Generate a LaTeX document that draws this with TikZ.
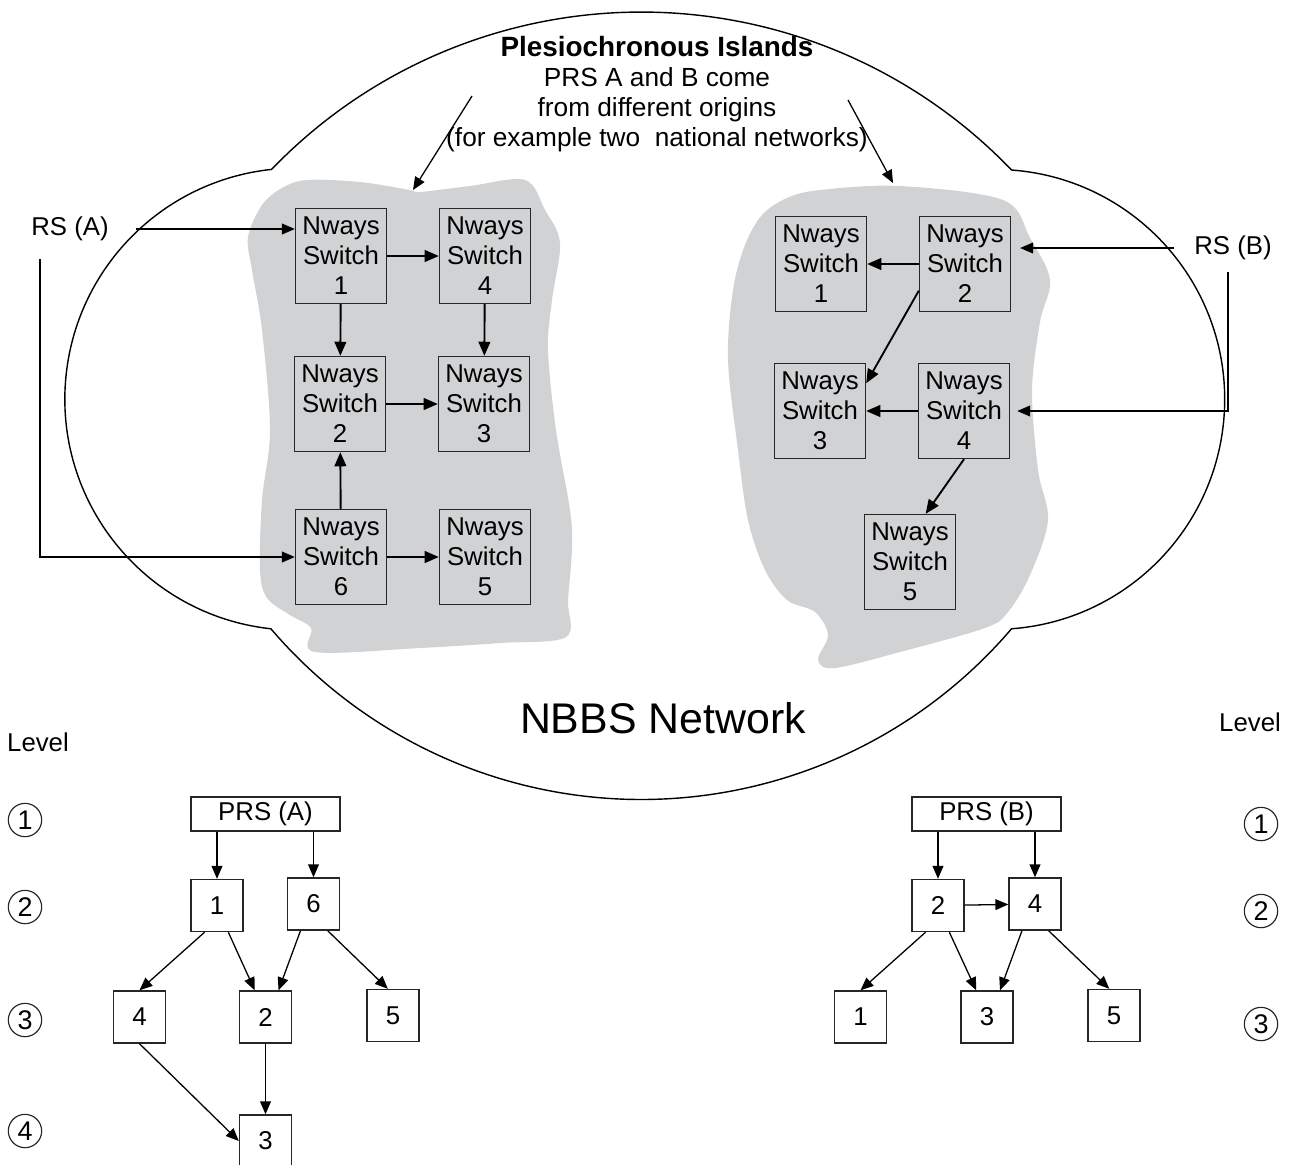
\documentclass[tikz,border=0pt]{standalone}
\usepackage{fontspec}
\setmainfont{Liberation Sans}
\usetikzlibrary{arrows.meta}
\definecolor{islandgray}{RGB}{209,210,212}

\begin{document}
\begin{tikzpicture}[x=0.015cm,y=0.015cm,
  font=\fontsize{11}{12.8}\selectfont,
  sw/.style={draw=black!85,line width=0.6pt,minimum width=1.365cm,minimum height=1.425cm,inner sep=0pt,align=center},
  tb/.style={draw=black!85,line width=0.6pt,minimum size=0.78cm,inner sep=0pt},
  prs/.style={draw=black!85,line width=0.6pt,minimum width=2.235cm,minimum height=0.51cm,inner sep=0pt},
  lvl/.style={circle,draw=black!85,line width=0.5pt,minimum size=0.5cm,inner sep=0pt,font=\fontsize{11.5}{12.8}\selectfont},
  arr/.style={-{Triangle[length=6pt,width=5pt]},line width=0.8pt},
  tarr/.style={-{Triangle[length=5.5pt,width=4.6pt]},line width=0.55pt}]

\useasboundingbox (0,0) rectangle (1296,-1164);

% islands
\fill[islandgray] plot[smooth cycle,tension=0.55] coordinates {
 (307,-180) (360,-182) (410,-190) (420,-192) (470,-186) (525,-180) (545,-210)
 (560,-243) (552,-300) (548,-350) (556,-430) (570,-510) (572,-548) (568,-600)
 (566,-637) (500,-643) (420,-648) (315,-652) (311,-628) (290,-615) (267,-598)
 (260,-570) (262,-500) (270,-430) (262,-330) (252,-270) (248,-237) (262,-205)
 (282,-188)};
\fill[islandgray] plot[smooth cycle,tension=0.55] coordinates {
 (820,-190) (900,-186) (1003,-200) (1030,-238) (1050,-280) (1040,-322)
 (1032,-390) (1038,-470) (1048,-520) (1030,-575) (1008,-612) (985,-628)
 (900,-652) (835,-668) (818,-660) (828,-635) (815,-612) (787,-600) (765,-570)
 (748,-520) (738,-450) (728,-360) (733,-290) (745,-245) (762,-215) (787,-198)};

% cloud
\draw[line width=0.6pt] (271,-170) arc (136.2:43.8:7.695cm)
  arc (85.8:-85.8:3.45cm) arc (-40.5:-139.5:7.305cm)
  arc (263.8:96.2:3.465cm);

\node[align=center,font=\fontsize{11.2}{12.8}\selectfont] (note) at (657,-94) {{\fontsize{11.9}{12.8}\selectfont\textbf{Plesiochronous Islands}}\\PRS A and B come\\from different origins\\(for example two~~national networks)};
\node[font=\fontsize{18.3}{22}\selectfont] (nbbs) at (663,-718) {NBBS Network};

\coordinate (pa) at (472,-96);
\coordinate (pb) at (413,-190);
\coordinate (qa) at (848,-100);
\coordinate (qb) at (893,-183);
\draw[tarr] (pa) -- (pb);
\draw[tarr] (qa) -- (qb);

% island A
\node[sw] (L1) at (341,-256) {Nways\\Switch\\1};
\node[sw] (L4) at (485,-256) {Nways\\Switch\\4};
\node[sw] (L2) at (340,-404) {Nways\\Switch\\2};
\node[sw] (L3) at (484,-404) {Nways\\Switch\\3};
\node[sw] (L6) at (341,-557) {Nways\\Switch\\6};
\node[sw] (L5) at (485,-557) {Nways\\Switch\\5};

\draw[arr] (L1) -- (L4);
\draw[arr] (L1) -- (L2);
\draw[arr] (L4) -- (L3);
\draw[arr] (L2) -- (L3);
\draw[arr] (L6) -- (L2);
\draw[arr] (L6) -- (L5);

\node (rsA) at (70,-229) {RS (A)};
\draw[tarr] ([xshift=0.29cm]rsA.east) -- (rsA.east -| L1.west);
\draw[tarr] ([xshift=-0.45cm,yshift=-0.15cm]rsA.south) |- (L6.west);

% island B
\node[sw] (R1) at (821,-264) {Nways\\Switch\\1};
\node[sw] (R2) at (965,-264) {Nways\\Switch\\2};
\node[sw] (R3) at (820,-411) {Nways\\Switch\\3};
\node[sw] (R4) at (964,-411) {Nways\\Switch\\4};
\node[sw] (R5) at (910,-562) {Nways\\Switch\\5};

\draw[arr] (R2) -- (R1);
\draw[arr] (R2.210) -- (R3.31);
\draw[arr] (R4) -- (R3);
\draw[arr] (R4.south) -- (R5.72);

\node (rsB) at (1233,-248) {RS (B)};
\draw[tarr,shorten >=3.8pt] ([xshift=-0.18cm]rsB.west) -- (rsB.west -| R2.east);
\draw[tarr,shorten >=3pt] ([xshift=-0.075cm,yshift=-0.05cm]rsB.south) |- (R4.east);

% levels
\node (levA) at (38,-742) {Level};
\node (levB) at (1250,-722) {Level};
\node[lvl] (la1) at (25,-820) {1};
\node[lvl] (la2) at (25,-907) {2};
\node[lvl] (la3) at (25,-1020) {3};
\node[lvl] (la4) at (25,-1131) {4};
\node[lvl] (lb1) at (1261,-824) {1};
\node[lvl] (lb2) at (1261,-911) {2};
\node[lvl] (lb3) at (1261,-1024) {3};

% tree A
\node[prs] (prsA) at (265.5,-814) {PRS (A)\hspace{0.2cm}};
\node[tb] (a1) at (217,-905.5) {1};
\node[tb] (a6) at (313.5,-904) {6};
\node[tb] (a4) at (139.5,-1017) {4};
\node[tb] (a2) at (265.5,-1017) {2};
\node[tb] (a5) at (393,-1015.5) {5};
\node[tb] (a3) at (265.5,-1141) {3};

\draw[tarr] (prsA.south -| a1) -- (a1);
\draw[tarr] (prsA.south -| a6) -- (a6);
\draw[tarr] (a1.-115) -- (a4.north);
\draw[tarr] (a1.-67) -- (a2.112);
\draw[tarr] (a6.-116) -- (a2.64);
\draw[tarr] (a6.-62) -- (a5.101);
\draw[tarr] (a4.south) -- (a3.west);
\draw[tarr] (a2) -- (a3);

% tree B
\node[prs] (prsB) at (986.5,-814) {PRS (B)\hspace{0.2cm}};
\node[tb] (b2) at (938,-905.5) {2};
\node[tb] (b4) at (1035,-904) {4};
\node[tb] (b1) at (860.5,-1017) {1};
\node[tb] (b3) at (987,-1017) {3};
\node[tb] (b5) at (1114,-1015.5) {5};

\draw[tarr] (prsB.south -| b2) -- (b2);
\draw[tarr] (prsB.south -| b4) -- (b4);
\draw[tarr] (b2) -- (b4);
\draw[tarr] (b2.-115) -- (b1.north);
\draw[tarr] (b2.-67) -- (b3.112);
\draw[tarr] (b4.-116) -- (b3.64);
\draw[tarr] (b4.-63) -- (b5.100);

\end{tikzpicture}
\end{document}
